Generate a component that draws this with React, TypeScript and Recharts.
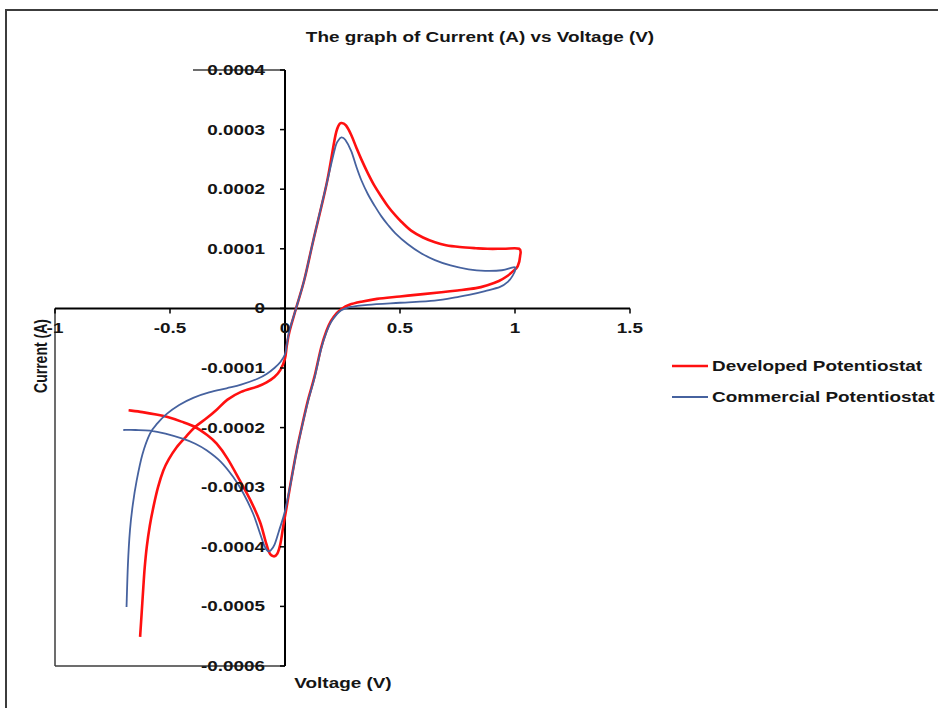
import React from 'react';
import { ScatterChart, Scatter, XAxis, YAxis, ReferenceLine, Legend } from 'recharts';

// ---------- data ----------
const developedVoltage = [
  -0.68, -0.62, -0.56, -0.514, -0.45, -0.391, -0.34, -0.297, -0.25, -0.196, -0.15, -0.109, -0.085, -0.068, -0.05,
  -0.034, -0.02, -0.007, 0.005, 0.026, 0.05, 0.07, 0.1, 0.128, 0.157, 0.18, 0.2, 0.225, 0.245, 0.28, 0.33, 0.4,
  0.5, 0.6, 0.68, 0.75, 0.83, 0.88, 0.93, 0.965, 0.993, 1.012, 1.022, 1.018, 0.95, 0.88, 0.83, 0.76, 0.7, 0.652,
  0.6, 0.55, 0.507, 0.48, 0.448, 0.42, 0.39, 0.36, 0.332, 0.31, 0.288, 0.265, 0.245, 0.232, 0.217, 0.181, 0.123,
  0.084, 0.048, 0.02, 0.008, 0.0, -0.02, -0.046, -0.08, -0.119, -0.191, -0.25, -0.297, -0.34, -0.391, -0.43,
  -0.471, -0.505, -0.529, -0.552, -0.572, -0.588, -0.601, -0.61, -0.616, -0.623, -0.63,
];
const developedCurrent = [
  -0.000171, -0.000174, -0.000178, -0.000182, -0.00019, -0.000199, -0.000212, -0.000227, -0.000252, -0.000289,
  -0.000322, -0.000358, -0.00039, -0.00041, -0.000416, -0.000412, -0.000395, -0.000364, -0.000338, -0.00029,
  -0.00024, -0.000204, -0.000154, -0.000115, -0.000066, -0.000038, -0.000021, -0.000008, -0.000001, 0.000006,
  0.000011, 0.000016, 0.00002, 0.000024, 0.000027, 0.00003, 0.000034, 0.000039, 0.000046, 0.000054, 0.000063,
  0.000071, 0.000087, 0.0001, 0.0001, 0.0001, 0.000101, 0.000103, 0.000106, 0.000111, 0.000119, 0.00013,
  0.000145, 0.000156, 0.000171, 0.000187, 0.000205, 0.000227, 0.00025, 0.00027, 0.000291, 0.000307, 0.000311,
  0.000306, 0.000286, 0.000209, 0.000114, 0.000048, 0.0, -0.000038, -0.000062, -0.000084, -0.000103, -0.000115,
  -0.000124, -0.000131, -0.00014, -0.000153, -0.00017, -0.000184, -0.000199, -0.000215, -0.000233, -0.000253,
  -0.000272, -0.0003, -0.000333, -0.000365, -0.0004, -0.000435, -0.000468, -0.00051, -0.000551,
];

const commercialVoltage = [
  -0.703, -0.65, -0.587, -0.52, -0.442, -0.39, -0.341, -0.28, -0.225, -0.18, -0.138, -0.11, -0.09, -0.075, -0.062,
  -0.045, -0.025, 0.0, 0.026, 0.05, 0.07, 0.1, 0.128, 0.157, 0.18, 0.2, 0.225, 0.245, 0.28, 0.36, 0.5, 0.65, 0.75,
  0.8, 0.87, 0.935, 0.97, 0.99, 1.002, 0.993, 0.943, 0.87, 0.798, 0.72, 0.652, 0.59, 0.533, 0.48, 0.448, 0.42,
  0.39, 0.36, 0.332, 0.31, 0.288, 0.262, 0.245, 0.232, 0.217, 0.181, 0.123, 0.084, 0.048, 0.02, 0.008, 0.0, -0.02,
  -0.046, -0.08, -0.119, -0.191, -0.254, -0.33, -0.399, -0.46, -0.514, -0.555, -0.587, -0.62, -0.645, -0.662,
  -0.674, -0.683, -0.689,
];
const commercialCurrent = [
  -0.000204, -0.000204, -0.000205, -0.00021, -0.000219, -0.000227, -0.000238, -0.000257, -0.000283, -0.000311,
  -0.000345, -0.000376, -0.000398, -0.000407, -0.000406, -0.000396, -0.000372, -0.00034, -0.000291, -0.000241,
  -0.000205, -0.000156, -0.000117, -0.000068, -0.00004, -0.000023, -0.00001, -0.000003, 0.000002, 0.000006,
  0.0000095, 0.000013, 0.000019, 0.0000225, 0.000029, 0.000036, 0.000045, 0.000055, 0.000066, 0.000069, 0.000064,
  0.000063, 0.0000655, 0.000072, 0.000081, 0.000093, 0.000108, 0.000126, 0.00014, 0.000154, 0.000172, 0.000192,
  0.000215, 0.000238, 0.000264, 0.000283, 0.000287, 0.000282, 0.000268, 0.000209, 0.000114, 0.000048, 0.0,
  -0.000036, -0.00006, -0.000077, -0.00009, -0.0001, -0.00011, -0.000118, -0.000128, -0.000134, -0.000141,
  -0.00015, -0.000162, -0.000177, -0.000193, -0.00021, -0.000245, -0.000289, -0.00033, -0.000372, -0.00043,
  -0.000501,
];

const seriesNames = ['Developed Potentiostat', 'Commercial Potentiostat'];
const xTicks = [-1, -0.5, 0, 0.5, 1, 1.5];
const yTicks = [0.0004, 0.0003, 0.0002, 0.0001, 0, -0.0001, -0.0002, -0.0003, -0.0004, -0.0005, -0.0006];
const X_DOMAIN: [number, number] = [-1, 1.5];
const Y_DOMAIN: [number, number] = [-0.0006, 0.0004];
const titleText = 'The graph of Current (A) vs Voltage (V)';
const xTitle = 'Voltage (V)';
const yTitle = 'Current (A)';

const developedData = developedVoltage.map((v, k) => ({ v, i: developedCurrent[k] }));
const commercialData = commercialVoltage.map((v, k) => ({ v, i: commercialCurrent[k] }));

// ---------- layout ----------
const W = 938;
const H = 708;
const PLOT = { top: 70, left: 55, right: 308, bottom: 42 };
const X_AXIS_H = 30;
const Y_AXIS_W = 55;
const MARGIN = { top: PLOT.top, right: PLOT.right, left: PLOT.left - Y_AXIS_W, bottom: PLOT.bottom - X_AXIS_H };
const PLOT_W = W - PLOT.left - PLOT.right;
const PLOT_H = H - PLOT.top - PLOT.bottom;
const ZERO_X = PLOT.left + (PLOT_W * (0 - X_DOMAIN[0])) / (X_DOMAIN[1] - X_DOMAIN[0]);
const ZERO_Y = PLOT.top + (PLOT_H * (Y_DOMAIN[1] - 0)) / (Y_DOMAIN[1] - Y_DOMAIN[0]);
const SX = 1.35;
const FONT = '"Liberation Sans", Arial, Helvetica, sans-serif';
const RED = '#ff1010';
const BLUE = '#46629f';

const fmt = (v: number) => (v === 0 ? '0' : String(v));

// smooth Catmull-Rom curve through the points, in the order given
const catmullRom = (context: any) => {
  let pts: number[][] = [];
  return {
    areaStart() {},
    areaEnd() {},
    lineStart() {
      pts = [];
    },
    point(x: number, y: number) {
      pts.push([+x, +y]);
    },
    lineEnd() {
      if (!pts.length) return;
      context.moveTo(pts[0][0], pts[0][1]);
      for (let k = 0; k < pts.length - 1; k++) {
        const p0 = pts[Math.max(k - 1, 0)];
        const p1 = pts[k];
        const p2 = pts[k + 1];
        const p3 = pts[Math.min(k + 2, pts.length - 1)];
        context.bezierCurveTo(
          p1[0] + (p2[0] - p0[0]) / 6,
          p1[1] + (p2[1] - p0[1]) / 6,
          p2[0] - (p3[0] - p1[0]) / 6,
          p2[1] - (p3[1] - p1[1]) / 6,
          p2[0],
          p2[1],
        );
      }
    },
  };
};

const XTick = (props: any) => {
  const { x, payload } = props;
  return (
    <g>
      <line x1={x} x2={x} y1={ZERO_Y} y2={ZERO_Y + 5} stroke="#000" strokeWidth={1.5} />
      <text
        transform={`translate(${x},${ZERO_Y + 25}) scale(${SX},1)`}
        textAnchor="middle"
        fontFamily={FONT}
        fontWeight="bold"
        fontSize={14}
        fill="#151515"
      >
        {fmt(payload.value)}
      </text>
    </g>
  );
};

const YTick = (props: any) => {
  const { y, payload } = props;
  return (
    <g>
      <line x1={ZERO_X - 5} x2={ZERO_X} y1={y} y2={y} stroke="#000" strokeWidth={1.5} />
      <text
        transform={`translate(${ZERO_X - 20},${y + 5}) scale(${SX},1)`}
        textAnchor="end"
        fontFamily={FONT}
        fontWeight="bold"
        fontSize={14}
        fill="#151515"
      >
        {fmt(payload.value)}
      </text>
    </g>
  );
};

const textBase: React.CSSProperties = {
  position: 'absolute',
  fontFamily: FONT,
  fontWeight: 'bold',
  fontSize: 14,
  lineHeight: '16px',
  whiteSpace: 'nowrap',
  color: '#151515',
};

const LegendContent = () => {
  const colors = [RED, BLUE];
  const widths = [2.6, 2];
  return (
    <div>
      {seriesNames.map((name, k) => (
        <div key={name} style={{ display: 'flex', alignItems: 'center', height: 31 }}>
          <svg width={36} height={6} style={{ display: 'block' }}>
            <line x1={0} x2={36} y1={3} y2={3} stroke={colors[k]} strokeWidth={widths[k]} />
          </svg>
          <span
            style={{
              marginLeft: 4,
              fontFamily: FONT,
              fontWeight: 'bold',
              fontSize: 14,
              lineHeight: '16px',
              whiteSpace: 'nowrap',
              color: '#151515',
              display: 'inline-block',
              transform: `scaleX(${SX})`,
              transformOrigin: 'left center',
            }}
          >
            {name}
          </span>
        </div>
      ))}
    </div>
  );
};

const noShape = () => <g />;

export default function App() {
  return (
    <div
      style={{
        position: 'absolute',
        left: 0,
        top: 0,
        width: W,
        height: H,
        overflow: 'hidden',
        background: '#fff',
      }}
    >
      <div
        style={{
          position: 'absolute',
          left: 5,
          top: 9,
          width: 1100,
          height: 900,
          border: '2px solid #3c3c3c',
        }}
      />
      <div style={{ position: 'absolute', left: 0, top: 0 }}>
        <ScatterChart width={W} height={H} margin={MARGIN}>
          <XAxis
            type="number"
            dataKey="v"
            domain={X_DOMAIN}
            ticks={xTicks}
            interval={0}
            allowDataOverflow
            axisLine={false}
            tickLine={false}
            height={X_AXIS_H}
            tick={<XTick />}
          />
          <YAxis
            type="number"
            dataKey="i"
            domain={Y_DOMAIN}
            ticks={yTicks}
            interval={0}
            allowDataOverflow
            axisLine={false}
            tickLine={false}
            width={Y_AXIS_W}
            tick={<YTick />}
          />
          <ReferenceLine
            segment={[{ x: -0.4, y: Y_DOMAIN[1] }, { x: 0, y: Y_DOMAIN[1] }]}
            stroke="#3c3c3c"
            strokeWidth={1.5}
          />
          <ReferenceLine
            segment={[{ x: X_DOMAIN[0], y: 0 }, { x: X_DOMAIN[0], y: Y_DOMAIN[0] }]}
            stroke="#3c3c3c"
            strokeWidth={1.5}
          />
          <ReferenceLine
            segment={[{ x: X_DOMAIN[0], y: Y_DOMAIN[0] }, { x: 0, y: Y_DOMAIN[0] }]}
            stroke="#3c3c3c"
            strokeWidth={1.5}
          />
          <ReferenceLine y={0} stroke="#000" strokeWidth={2} />
          <ReferenceLine x={0} stroke="#000" strokeWidth={2} />
          <Scatter
            name={seriesNames[0]}
            data={developedData}
            fill={RED}
            line={{ stroke: RED, strokeWidth: 2.6 }}
            lineType="joint"
            lineJointType={catmullRom as any}
            shape={noShape}
            isAnimationActive={false}
          />
          <Scatter
            name={seriesNames[1]}
            data={commercialData}
            fill={BLUE}
            line={{ stroke: BLUE, strokeWidth: 1.8 }}
            lineType="joint"
            lineJointType={catmullRom as any}
            shape={noShape}
            isAnimationActive={false}
          />
          <Legend
            layout="vertical"
            align="center"
            verticalAlign="middle"
            wrapperStyle={{ left: 672, top: 350.5, width: 266, height: 62 }}
            content={LegendContent}
          />
        </ScatterChart>
      </div>
      <div style={{ ...textBase, left: 480, top: 37, transform: `translate(-50%, -50%) scaleX(${SX})` }}>
        {titleText}
      </div>
      <div style={{ ...textBase, left: 343, top: 683, transform: `translate(-50%, -50%) scaleX(${SX})` }}>
        {xTitle}
      </div>
      <div
        style={{
          ...textBase,
          left: 40,
          top: 356,
          transform: `translate(-50%, -50%) rotate(-90deg) scaleY(${SX})`,
        }}
      >
        {yTitle}
      </div>
    </div>
  );
}
